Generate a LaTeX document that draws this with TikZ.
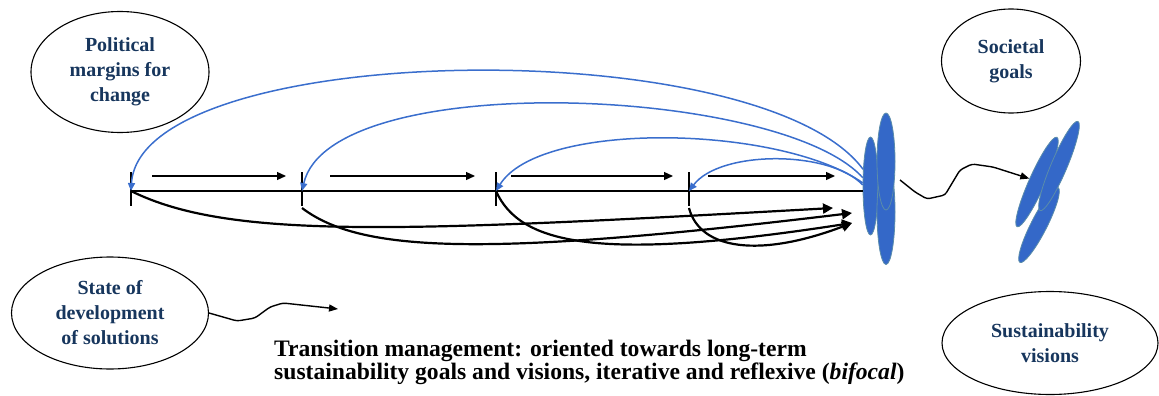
\documentclass[tikz,border=0pt]{standalone}
\usepackage{fontspec}
\setmainfont{Liberation Serif}
\usetikzlibrary{arrows.meta,shapes.geometric}
\definecolor{LabelClr}{RGB}{23,54,93}
\definecolor{LoopClr}{RGB}{58,110,205}
\definecolor{BlobClr}{RGB}{52,104,200}
\definecolor{BlobEdge}{RGB}{90,140,170}

\tikzset{
  factor/.style={draw, ellipse, line width=1.1pt, inner sep=0pt, align=center,
    text=LabelClr, font=\fontsize{20}{25}\selectfont\bfseries},
  blob/.style={ellipse, fill=BlobClr, draw=BlobEdge, line width=.8pt, inner sep=0pt},
  stage/.style={line width=1.3pt, -{Triangle[length=9pt,width=8pt]}},
  feedback/.style={LoopClr, line width=1.5pt, -{Triangle[length=8pt,width=7pt]}},
  sweep/.style={line width=2.2pt, -{Triangle[length=10pt,width=10pt]}},
  wiggle/.style={line width=1.4pt, rounded corners=3pt, -{Triangle[length=9pt,width=7pt]}},
}

\begin{document}
\begin{tikzpicture}[x=1pt,y=-1pt]
\useasboundingbox (0,0) rectangle (1159,396);

\node[factor, minimum width=178pt, minimum height=121pt] (pol) at (120,72) {Political\\margins for\\change};
\node[factor, minimum width=197pt, minimum height=112pt] (sol) at (110,313) {State of\\development\\of solutions};
\node[factor, minimum width=139pt, minimum height=104pt] (soc) at (1011,61) {Societal\\goals};
\node[factor, minimum width=216pt, minimum height=103pt] (vis) at (1050,343) {Sustainability\\visions};

% cluster at the end of the timeline
\node[blob, minimum width=15pt, minimum height=98pt] (lg) at (870.5,186) {};
\node[blob, minimum width=18pt, minimum height=105pt] (lc) at (886,212) {};
\node[blob, minimum width=18pt, minimum height=97pt] (lt) at (886,161.5) {};

% goals cluster
\node[blob, rotate=66, minimum width=98pt, minimum height=16pt] (ga) at (1037,182) {};
\node[blob, rotate=63, minimum width=84pt, minimum height=16pt] (gc) at (1039,225) {};
\node[blob, rotate=67, minimum width=97pt, minimum height=16pt] (gb) at (1059,166) {};

\coordinate (t1) at (131,191);
\coordinate (t2) at (302,191);
\coordinate (t3) at (496,191);
\coordinate (t4) at (689,191);

\draw[line width=1.2pt] (t1) -- (t1 -| lg.west);
\foreach \t in {t1,t2,t3,t4}
  \draw[line width=1.2pt] ([yshift=19pt]\t) -- ([yshift=-15pt]\t);

\foreach \n/\xa/\xb in {1/152/286,2/330/475,3/511/673,4/708/835}{
  \coordinate (s\n) at (\xa,176);
  \coordinate (e\n) at (\xb,176);
  \draw[stage] (s\n) -- (e\n);
}

% loops back
\draw[feedback] (lg.114) .. controls (760,30) and (140,40) .. (t1);
\draw[feedback] (lg.133) .. controls (780,86) and (330,68) .. (t2);
\draw[feedback] (lg.158) .. controls (780,125) and (540,120) .. (t3);
\draw[feedback] (lg.172) .. controls (830,150) and (720,150) .. (t4);

\coordinate (f1) at (833,208);
\coordinate (f2) at (852,213);
\coordinate (f3) at (852,223);
\draw[sweep] (t1) .. controls (230,240) and (400,232) .. (f1);
\draw[sweep] ([yshift=-17pt]t2) .. controls (360,252) and (480,258) .. (f2);
\draw[sweep] (t3) .. controls (520,245) and (600,262) .. (f3);
\draw[sweep] ([yshift=-17pt]t4) .. controls (700,250) and (760,258) .. (f3);

\coordinate (w1) at (338,309);
\draw[wiggle] (sol.east) -- (237,321) -- (255,318) -- (270,307) -- (283,303) -- (w1);
\coordinate (w2) at (900,180);
\draw[wiggle] (w2) -- (915,192) -- (927,199) -- (945,195) -- (960,170) -- (972,164) -- (993,167) -- (ga.north);

\node[anchor=west, align=left, inner sep=0pt, font=\fontsize{23.6}{23}\selectfont\bfseries] (cap) at (274,362)
  {Transition management: oriented towards long-term\\sustainability goals and visions, iterative and reflexive (\textit{bifocal})};
\end{tikzpicture}
\end{document}
